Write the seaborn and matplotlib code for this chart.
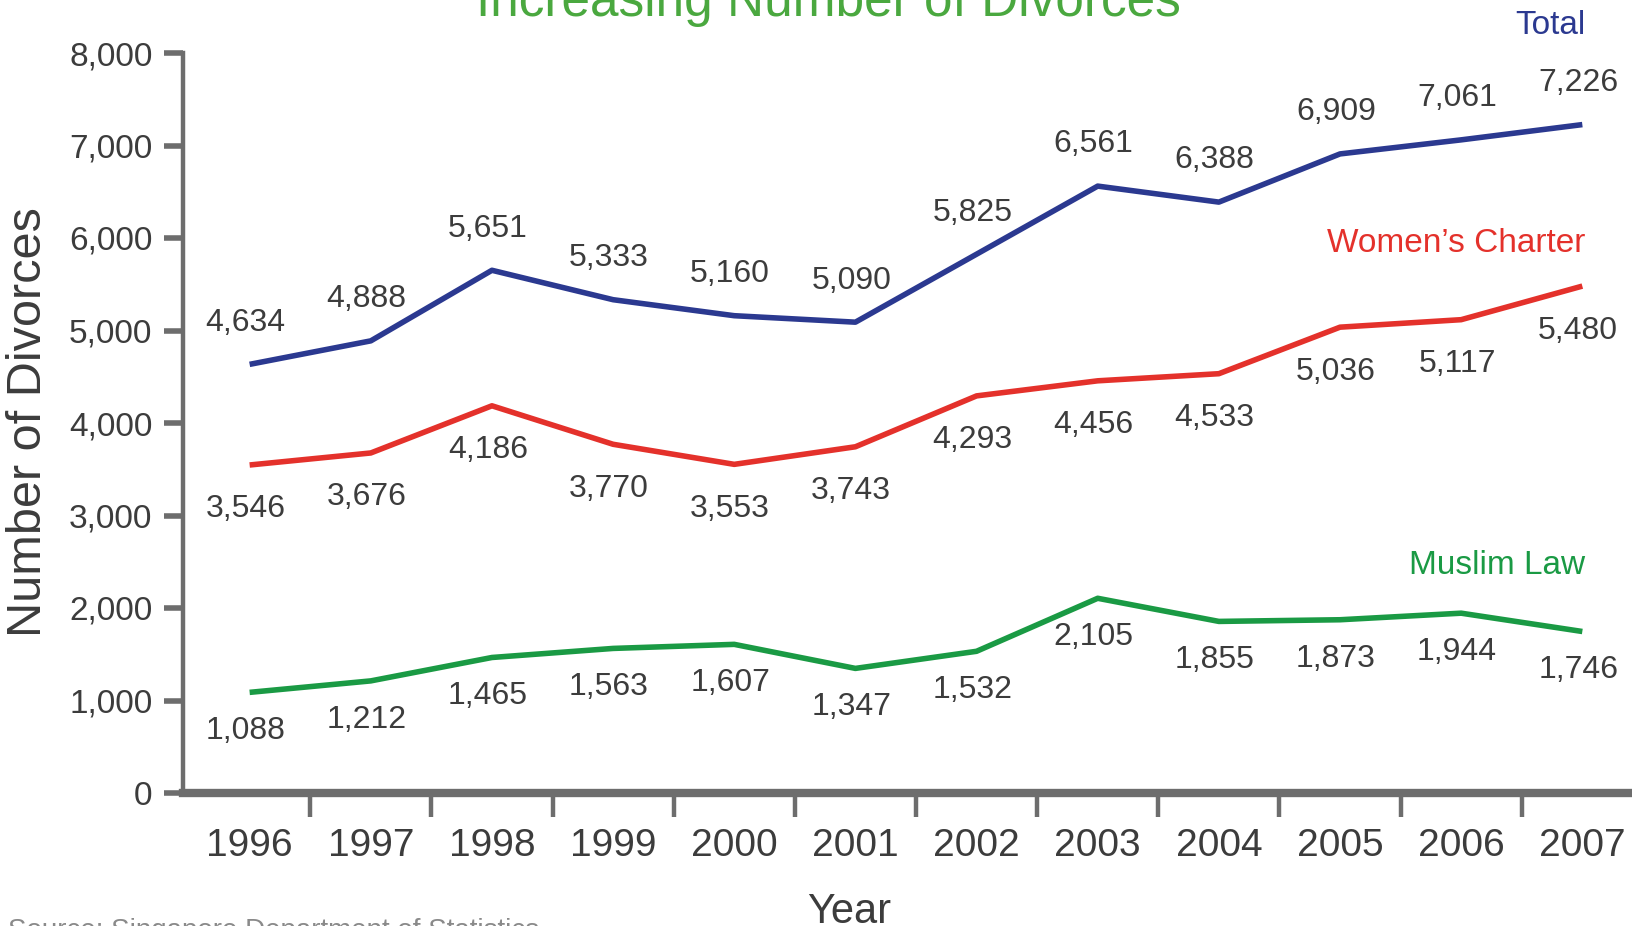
import matplotlib
matplotlib.use("Agg")
import matplotlib.pyplot as plt
import seaborn as sns
import pandas as pd
from matplotlib import font_manager

years = [1996, 1997, 1998, 1999, 2000, 2001, 2002, 2003, 2004, 2005, 2006, 2007]
total = [4634, 4888, 5651, 5333, 5160, 5090, 5825, 6561, 6388, 6909, 7061, 7226]
womens_charter = [3546, 3676, 4186, 3770, 3553, 3743, 4293, 4456, 4533, 5036, 5117, 5480]
muslim_law = [1088, 1212, 1465, 1563, 1607, 1347, 1532, 2105, 1855, 1873, 1944, 1746]
series_names = ["Total", "Women\u2019s Charter", "Muslim Law"]
y_ticks = [0, 1000, 2000, 3000, 4000, 5000, 6000, 7000, 8000]

sns.set_theme(style="white")
names = {f.name for f in font_manager.fontManager.ttflist}
REG = "Liberation Sans" if "Liberation Sans" in names else "DejaVu Sans"
plt.rcParams["font.family"] = [REG, "DejaVu Sans"]

colors = {"Total": "#2b3990", "Women\u2019s Charter": "#e4312b", "Muslim Law": "#1a9a44"}
AX = "#6d6d6d"
TXT = "#3c3c3c"

df = pd.DataFrame({
    "Year": years * 3,
    "Divorces": total + womens_charter + muslim_law,
    "Series": [series_names[0]] * len(years) + [series_names[1]] * len(years) + [series_names[2]] * len(years),
})

W, H = 1632, 926
fig = plt.figure(figsize=(W / 100, H / 100), dpi=100)
ax = fig.add_axes([183 / W, 133 / H, (W - 183) / W, 740 / H])

sns.lineplot(data=df, x="Year", y="Divorces", hue="Series", palette=colors,
             linewidth=4, legend=False, ax=ax, sort=False)
for ln in ax.get_lines():
    ln.set_solid_joinstyle("round")
    ln.set_solid_capstyle("butt")

ax.set_xlim(1995.45, 2007.41)
ax.set_ylim(0, 8000)

for s in ["top", "right"]:
    ax.spines[s].set_visible(False)
ax.spines["left"].set_color(AX)
ax.spines["left"].set_linewidth(3.2)
ax.spines["bottom"].set_color(AX)
ax.spines["bottom"].set_linewidth(6)

ax.set_yticks(y_ticks)
ax.set_yticklabels([f"{v:,}" for v in y_ticks])
ax.tick_params(axis="y", direction="out", length=14, width=4, color=AX,
               labelsize=24, labelcolor=TXT, pad=8, left=True)

ax.set_xticks([y + 0.5 for y in years[:-1]])
ax.set_xticklabels([])
ax.set_xticks(years, minor=True)
ax.set_xticklabels([str(y) for y in years], minor=True)
ax.tick_params(axis="x", which="major", direction="out", length=17, width=3.2, color=AX, bottom=True)
ax.tick_params(axis="x", which="minor", length=0, labelsize=28, labelcolor=TXT, pad=25, bottom=True)

ax.set_xlabel("")
ax.set_ylabel("")
ax.grid(False)

offsets = {"Total": 30, "Women\u2019s Charter": -32, "Muslim Law": -28}
for name, vals in zip(series_names, [total, womens_charter, muslim_law]):
    for x, v in zip(years, vals):
        ax.annotate(f"{v:,}", (x, v), xytext=(-3, offsets[name]), textcoords="offset points",
                    ha="center", va="center", fontsize=23, color=TXT, annotation_clip=False)

fig.text(1585 / W, 1 - 26 / H, "Total", ha="right", va="center", fontsize=24, color=colors["Total"])
fig.text(1585 / W, 1 - 244 / H, "Women\u2019s Charter", ha="right", va="center", fontsize=24,
         color=colors["Women\u2019s Charter"])
fig.text(1585 / W, 1 - 566 / H, "Muslim Law", ha="right", va="center", fontsize=24,
         color=colors["Muslim Law"])

fig.text(828 / W, 1 - 16 / H, "Increasing Number of Divorces", ha="center", va="baseline",
         fontsize=37, color="#4aa83f")

fig.text(29 / W, 1 - 422 / H, "Number of Divorces", rotation=90, ha="center", va="center",
         fontsize=35, color=TXT)
fig.text(849 / W, 1 - 923 / H, "Year", ha="center", va="baseline", fontsize=30, color=TXT)

fig.text(8 / W, 1 - 918 / H, "Source: Singapore Department of Statistics", ha="left", va="top",
         fontsize=20, color="#8a8a8a")

fig.savefig("out.png", dpi=100)
